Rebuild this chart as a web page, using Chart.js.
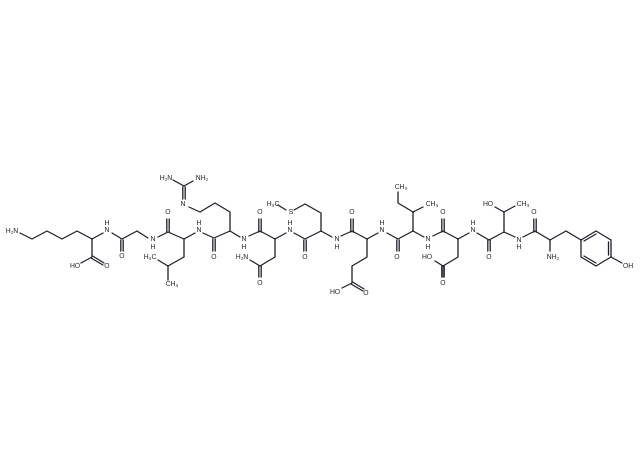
<!DOCTYPE html>
<html>
<head>
<meta charset="utf-8">
<style>
  html, body { margin: 0; padding: 0; background: #ffffff; }
  canvas { display: block; }
</style>
<script src="https://cdn.jsdelivr.net/npm/chart.js@4"></script>
</head>
<body>
<canvas id="peptide" width="640" height="470"></canvas>
<script>
// Single bonds as polylines, [x, y] in picture units
const backbone = [
  [[20,233],[32,239],[47,231],[62,239],[77,231],[92,239],[103,233]],
  [[112,233],[122,239],[137,231],[148,238]],
  [[158,237],[168,232],[184,239],[195,233]],
  [[203,233],[214,238],[230,231],[240,237]],
  [[249,236],[260,231],[275,239],[286,233]],
  [[294,233],[305,239],[321,231],[332,237]],
  [[341,236],[352,231],[367,239],[378,233]],
  [[387,233],[398,239],[413,231],[424,237]],
  [[433,236],[443,231],[458,239],[469,233]],
  [[477,233],[489,240],[504,232],[515,237]],
  [[523,237],[535,231],[550,240],[566,231],[581,240]]
];
const sideChains = [
  [[92,239],[92,257],[81,263]],
  [[184,239],[184,257],[168,266],[158,260]],
  [[168,266],[168,280]],
  [[230,231],[230,212],[215,203],[200,212],[189,207]],
  [[184,186],[173,180]],
  [[184,186],[193,181]],
  [[275,239],[275,257],[260,266],[250,260]],
  [[321,231],[321,213],[305,204],[294,210]],
  [[286,210],[278,205]],
  [[367,239],[367,257],[352,266],[352,283],[342,288]],
  [[413,231],[413,212],[398,203],[398,192]],
  [[413,212],[423,207]],
  [[458,239],[458,257],[443,266],[443,277]],
  [[443,266],[435,261]],
  [[504,232],[504,212],[495,207]],
  [[504,212],[515,206]],
  [[550,240],[550,251]]
];
const ringBonds = [
  [[581,240],[596,231],[611,240],[611,257],[596,266],[581,257],[581,240]],
  [[611,257],[622,263]],
  [[584,241],[596,234]],
  [[608.5,242],[608.5,255]],
  [[584,256],[596,263]]
];
// Double bonds, both strokes
const doubleBonds = [
  [[[92.6,256],[104,263]],[[91.4,258.2],[103,265]]],
  [[[120.8,240],[120.8,251]],[[123.2,240],[123.2,251]]],
  [[[166.8,219],[166.8,232]],[[169.2,219],[169.2,232]]],
  [[[212.8,239],[212.8,251]],[[215.2,239],[215.2,251]]],
  [[[182.8,187],[182.8,199]],[[185.2,187],[185.2,199]]],
  [[[258.8,219],[258.8,232]],[[261.2,219],[261.2,232]]],
  [[[258.8,266],[258.8,277]],[[261.2,266],[261.2,277]]],
  [[[303.8,240],[303.8,251]],[[306.2,240],[306.2,251]]],
  [[[350.8,219],[350.8,232]],[[353.2,219],[353.2,232]]],
  [[[352.6,282],[364,289]],[[351.4,284.2],[363,291]]],
  [[[396.8,240],[396.8,251]],[[399.2,240],[399.2,251]]],
  [[[441.8,219],[441.8,232]],[[444.2,219],[444.2,232]]],
  [[[441.8,266],[441.8,277]],[[444.2,266],[444.2,277]]],
  [[[487.8,240],[487.8,251]],[[490.2,240],[490.2,251]]],
  [[[533.8,219],[533.8,232]],[[536.2,219],[536.2,232]]]
];
// Atom labels: text, x, y
const atomLabels = [
  ['H₂N',12,231],['HO',75,266],['O',107,266],['N',107,230],['H',107,223],['O',122,256],
  ['N',153,239],['H',153,247],['O',168,212],['H₃C',150,257],['CH₃',172,284],
  ['H₂N',166,178],['NH₂',202,178],['N',183,204],['N',199,230],['H',199,223],['O',214,257],
  ['N',244,239],['H',244,247],['O',260,212],['H₂N',242,257],['O',260,283],
  ['H₃C',273,204],['S',291,212],['N',290,230],['H',290,223],['O',305,257],
  ['N',337,239],['H',337,247],['O',352,212],['HO',335,292],['O',366,293],
  ['N',382,230],['H',382,223],['O',397,257],['CH₃',401,187],['CH₃',432,204],
  ['N',428,239],['H',428,247],['O',443,212],['HO',427,257],['O',443,283],
  ['N',473,230],['H',473,223],['O',489,257],['HO',488,204],['CH₃',523,204],
  ['N',519,240],['H',519,247],['O',534,212],['NH₂',553,257],['OH',628,266]
];

const BOND_COLOR = '#20202a';
const TEXT_COLOR = '#15151d';

const allBonds = [...backbone, ...sideChains, ...ringBonds, ...doubleBonds.flat()];

const datasets = allBonds.map(chain => ({
  data: chain.map(([x, y]) => ({ x, y })),
  showLine: true,
  borderColor: BOND_COLOR,
  borderWidth: 1.3,
  borderCapStyle: 'round',
  borderJoinStyle: 'round',
  pointRadius: 0,
  tension: 0
}));

const atomLabelPlugin = {
  id: 'atomLabels',
  afterDatasetsDraw(chart) {
    const { ctx, scales } = chart;
    ctx.save();
    ctx.font = '6.8px "Liberation Sans", Arial, sans-serif';
    ctx.fillStyle = TEXT_COLOR;
    ctx.textAlign = 'center';
    ctx.textBaseline = 'middle';
    atomLabels.forEach(([text, x, y]) => {
      ctx.fillText(text, scales.x.getPixelForValue(x), scales.y.getPixelForValue(y));
    });
    ctx.restore();
  }
};

new Chart(document.getElementById('peptide'), {
  type: 'scatter',
  data: { datasets },
  options: {
    responsive: false,
    animation: false,
    layout: { padding: 0 },
    plugins: { legend: { display: false }, tooltip: { enabled: false } },
    scales: {
      x: { type: 'linear', min: 0, max: 640, display: false },
      y: { type: 'linear', min: 0, max: 470, reverse: true, display: false }
    }
  },
  plugins: [atomLabelPlugin]
});
</script>
</body>
</html>
